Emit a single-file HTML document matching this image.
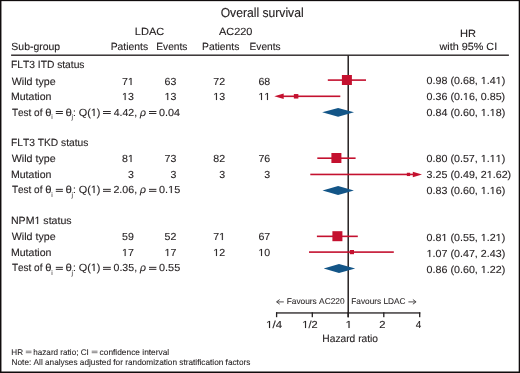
<!DOCTYPE html>
<html><head><meta charset="utf-8"><style>
html,body{margin:0;padding:0;background:#fff;}
body{width:520px;height:373px;overflow:hidden;}
svg{display:block;will-change:transform;}
text{font-family:"Liberation Sans",sans-serif;font-kerning:none;font-variant-ligatures:none;text-rendering:geometricPrecision;}
tspan.h{fill-opacity:0;stroke-opacity:0;}
</style></head><body>
<svg width="520" height="373" viewBox="0 0 520 373">
<defs>
<path id="one" d="M515 0V1237L197 1010V1180L530 1409H696V0Z"/>
</defs>
<rect width="520" height="373" fill="#fff"/>
<rect x="55.80" y="111.00" width="7.10" height="0.95" fill="#231f20"/>
<rect x="55.80" y="113.00" width="7.10" height="0.95" fill="#231f20"/>
<rect x="103.00" y="111.00" width="7.80" height="0.95" fill="#231f20"/>
<rect x="103.00" y="113.00" width="7.80" height="0.95" fill="#231f20"/>
<rect x="149.00" y="111.00" width="7.40" height="0.95" fill="#231f20"/>
<rect x="149.00" y="113.00" width="7.40" height="0.95" fill="#231f20"/>
<rect x="55.80" y="188.85" width="7.10" height="0.95" fill="#231f20"/>
<rect x="55.80" y="190.85" width="7.10" height="0.95" fill="#231f20"/>
<rect x="103.00" y="188.85" width="7.80" height="0.95" fill="#231f20"/>
<rect x="103.00" y="190.85" width="7.80" height="0.95" fill="#231f20"/>
<rect x="149.00" y="188.85" width="7.40" height="0.95" fill="#231f20"/>
<rect x="149.00" y="190.85" width="7.40" height="0.95" fill="#231f20"/>
<rect x="55.80" y="266.85" width="7.10" height="0.95" fill="#231f20"/>
<rect x="55.80" y="268.85" width="7.10" height="0.95" fill="#231f20"/>
<rect x="103.00" y="266.85" width="7.80" height="0.95" fill="#231f20"/>
<rect x="103.00" y="268.85" width="7.80" height="0.95" fill="#231f20"/>
<rect x="149.00" y="266.85" width="7.40" height="0.95" fill="#231f20"/>
<rect x="149.00" y="268.85" width="7.40" height="0.95" fill="#231f20"/>
<rect x="25.80" y="350.75" width="5.70" height="0.75" fill="#231f20" opacity="0.75"/>
<rect x="25.80" y="352.40" width="5.70" height="0.75" fill="#231f20" opacity="0.75"/>
<rect x="91.70" y="350.75" width="5.80" height="0.75" fill="#231f20" opacity="0.75"/>
<rect x="91.70" y="352.40" width="5.80" height="0.75" fill="#231f20" opacity="0.75"/>
<rect x="277.2" y="301.15" width="6.6" height="1.4" fill="#231f20" opacity="0.55"/>
<path d="M279.7,299.55 L276.5,301.85 L279.7,304.15" fill="none" stroke="#231f20" stroke-width="0.95" opacity="0.85"/>
<rect x="408.4" y="301.15" width="6.6" height="1.4" fill="#231f20" opacity="0.55"/>
<path d="M412.9,299.55 L416.1,301.85 L412.9,304.15" fill="none" stroke="#231f20" stroke-width="0.95" opacity="0.85"/>
<rect x="11.1" y="54.45" width="497.8" height="1.55" fill="#3f3a3b"/>
<rect x="347.45" y="55" width="1.55" height="262.3" fill="#2d2829"/>
<rect x="276.0" y="312.3" width="144.3" height="1.3" fill="#231f20"/>
<rect x="275.95" y="312.3" width="1.3" height="4.9" fill="#231f20"/>
<rect x="311.65" y="312.3" width="1.3" height="4.9" fill="#231f20"/>
<rect x="347.55" y="312.3" width="1.3" height="4.9" fill="#231f20"/>
<rect x="383.15" y="312.3" width="1.3" height="4.9" fill="#231f20"/>
<rect x="419.05" y="312.3" width="1.3" height="4.9" fill="#231f20"/>
<rect x="327.80" y="79.30" width="38.20" height="1.6" fill="#c4112f"/>
<rect x="341.90" y="75.00" width="10.00" height="10.00" fill="#c4112f"/>
<rect x="283.00" y="95.50" width="57.30" height="1.6" fill="#c4112f"/>
<rect x="293.85" y="94.05" width="4.50" height="4.50" fill="#c4112f"/>
<polygon points="274.30,96.30 283.70,93.60 283.70,99.00" fill="#c4112f"/>
<polygon points="322.20,112.30 338.10,107.90 354.00,112.30 338.10,116.70" fill="#135587"/>
<rect x="317.30" y="157.40" width="38.30" height="1.6" fill="#c4112f"/>
<rect x="331.40" y="153.00" width="10.00" height="10.00" fill="#c4112f"/>
<rect x="310.30" y="173.65" width="103.20" height="1.6" fill="#c4112f"/>
<rect x="406.85" y="172.75" width="3.30" height="3.30" fill="#c4112f"/>
<polygon points="422.00,174.45 412.80,171.75 412.80,177.15" fill="#c4112f"/>
<polygon points="322.50,190.50 338.10,185.95 353.90,190.50 338.10,195.05" fill="#135587"/>
<rect x="316.90" y="235.55" width="40.90" height="1.6" fill="#c4112f"/>
<rect x="332.40" y="231.20" width="10.00" height="10.00" fill="#c4112f"/>
<rect x="309.00" y="251.30" width="84.80" height="1.6" fill="#c4112f"/>
<rect x="349.80" y="250.00" width="4.20" height="4.20" fill="#c4112f"/>
<polygon points="323.70,268.50 339.00,263.90 355.20,268.50 339.00,273.10" fill="#135587"/>
<g fill="#231f20" stroke="#231f20" stroke-width="0.12" stroke-linejoin="round">
<text x="220.67" y="17" font-size="13.0" textLength="82.99" lengthAdjust="spacingAndGlyphs">Overall survival</text>
<text x="134.84" y="35" font-size="10.4" textLength="29.53" lengthAdjust="spacingAndGlyphs">LDAC</text>
<text x="218.93" y="35" font-size="10.4" textLength="33.55" lengthAdjust="spacingAndGlyphs">AC220</text>
<text x="459.94" y="37" font-size="10.4" textLength="16.02" lengthAdjust="spacingAndGlyphs">HR</text>
<text x="11.38" y="50" font-size="10.4" textLength="48.71" lengthAdjust="spacingAndGlyphs">Sub-group</text>
<text x="110.70" y="50" font-size="10.4" textLength="37.42" lengthAdjust="spacingAndGlyphs">Patients</text>
<text x="156.32" y="50" font-size="10.4" textLength="31.10" lengthAdjust="spacingAndGlyphs">Events</text>
<text x="202.00" y="50" font-size="10.4" textLength="37.42" lengthAdjust="spacingAndGlyphs">Patients</text>
<text x="249.62" y="50" font-size="10.4" textLength="31.00" lengthAdjust="spacingAndGlyphs">Events</text>
<text x="439.57" y="50" font-size="10.4" textLength="57.58" lengthAdjust="spacingAndGlyphs">with 95% CI</text>
<text x="11.01" y="68" font-size="10.4" textLength="73.51" lengthAdjust="spacingAndGlyphs">FLT3 ITD status</text>
<text x="11.80" y="85" font-size="10.4" textLength="43.82" lengthAdjust="spacingAndGlyphs">Wild type</text>
<text x="10.98" y="100" font-size="10.4" textLength="40.45" lengthAdjust="spacingAndGlyphs">Mutation</text>
<text x="122.01" y="85" font-size="10.2" textLength="11.80" lengthAdjust="spacingAndGlyphs">7<tspan class="h">1</tspan></text>
<text x="164.61" y="85" font-size="10.2" textLength="11.80" lengthAdjust="spacingAndGlyphs">63</text>
<text x="213.31" y="85" font-size="10.2" textLength="11.80" lengthAdjust="spacingAndGlyphs">72</text>
<text x="258.41" y="85" font-size="10.2" textLength="11.80" lengthAdjust="spacingAndGlyphs">68</text>
<text x="122.01" y="100" font-size="10.2" textLength="11.80" lengthAdjust="spacingAndGlyphs"><tspan class="h">1</tspan>3</text>
<text x="164.61" y="100" font-size="10.2" textLength="11.80" lengthAdjust="spacingAndGlyphs"><tspan class="h">1</tspan>3</text>
<text x="213.31" y="100" font-size="10.2" textLength="11.80" lengthAdjust="spacingAndGlyphs"><tspan class="h">1</tspan>3</text>
<text x="258.41" y="100" font-size="10.2" textLength="11.80" lengthAdjust="spacingAndGlyphs"><tspan class="h">1</tspan><tspan class="h">1</tspan></text>
<text x="426.63" y="84" font-size="10.2" textLength="78.59" lengthAdjust="spacingAndGlyphs">0.98 (0.68, <tspan class="h">1</tspan>.4<tspan class="h">1</tspan>)</text>
<text x="426.63" y="100" font-size="10.2" textLength="78.59" lengthAdjust="spacingAndGlyphs">0.36 (0.<tspan class="h">1</tspan>6, 0.85)</text>
<text x="426.63" y="116" font-size="10.2" textLength="78.59" lengthAdjust="spacingAndGlyphs">0.84 (0.60, <tspan class="h">1</tspan>.<tspan class="h">1</tspan>8)</text>
<text x="11.93" y="116" font-size="10.4" textLength="30.51" lengthAdjust="spacingAndGlyphs">Test of</text>
<text x="45.37" y="116" font-size="10.4" textLength="6.27" lengthAdjust="spacingAndGlyphs">θ</text>
<text x="51.30" y="119" font-size="6.8" textLength="1.51" lengthAdjust="spacingAndGlyphs" stroke-width="0">i</text>
<text x="65.56" y="116" font-size="10.4" textLength="6.39" lengthAdjust="spacingAndGlyphs">θ</text>
<text x="71.62" y="119" font-size="6.8" textLength="1.51" lengthAdjust="spacingAndGlyphs" stroke-width="0">j</text>
<text x="72.90" y="116" font-size="10.4" textLength="2.89" lengthAdjust="spacingAndGlyphs">:</text>
<text x="78.73" y="116" font-size="10.4" textLength="21.79" lengthAdjust="spacingAndGlyphs">Q(<tspan class="h">1</tspan>)</text>
<text x="113.71" y="116" font-size="10.2" textLength="20.47" lengthAdjust="spacingAndGlyphs">4.42</text>
<text x="134.22" y="116" font-size="10.4" textLength="2.89" lengthAdjust="spacingAndGlyphs">,</text>
<text x="140.10" y="116" font-size="10.4" textLength="5.96" lengthAdjust="spacingAndGlyphs" font-style="italic">ρ</text>
<text x="159.03" y="116" font-size="10.2" textLength="21.04" lengthAdjust="spacingAndGlyphs">0.04</text>
<text x="11.01" y="146" font-size="10.4" textLength="77.31" lengthAdjust="spacingAndGlyphs">FLT3 TKD status</text>
<text x="11.80" y="162" font-size="10.4" textLength="43.82" lengthAdjust="spacingAndGlyphs">Wild type</text>
<text x="10.98" y="178" font-size="10.4" textLength="40.45" lengthAdjust="spacingAndGlyphs">Mutation</text>
<text x="122.01" y="162" font-size="10.2" textLength="11.80" lengthAdjust="spacingAndGlyphs">8<tspan class="h">1</tspan></text>
<text x="164.61" y="162" font-size="10.2" textLength="11.80" lengthAdjust="spacingAndGlyphs">73</text>
<text x="213.31" y="162" font-size="10.2" textLength="11.80" lengthAdjust="spacingAndGlyphs">82</text>
<text x="258.41" y="162" font-size="10.2" textLength="11.80" lengthAdjust="spacingAndGlyphs">76</text>
<text x="127.91" y="178" font-size="10.2" textLength="5.90" lengthAdjust="spacingAndGlyphs">3</text>
<text x="170.51" y="178" font-size="10.2" textLength="5.90" lengthAdjust="spacingAndGlyphs">3</text>
<text x="219.21" y="178" font-size="10.2" textLength="5.90" lengthAdjust="spacingAndGlyphs">3</text>
<text x="264.31" y="178" font-size="10.2" textLength="5.90" lengthAdjust="spacingAndGlyphs">3</text>
<text x="426.63" y="162" font-size="10.2" textLength="78.59" lengthAdjust="spacingAndGlyphs">0.80 (0.57, <tspan class="h">1</tspan>.<tspan class="h">1</tspan><tspan class="h">1</tspan>)</text>
<text x="426.63" y="178" font-size="10.2" textLength="84.55" lengthAdjust="spacingAndGlyphs">3.25 (0.49, 2<tspan class="h">1</tspan>.62)</text>
<text x="426.63" y="194" font-size="10.2" textLength="78.59" lengthAdjust="spacingAndGlyphs">0.83 (0.60, <tspan class="h">1</tspan>.<tspan class="h">1</tspan>6)</text>
<text x="11.93" y="193" font-size="10.4" textLength="30.51" lengthAdjust="spacingAndGlyphs">Test of</text>
<text x="45.37" y="193" font-size="10.4" textLength="6.27" lengthAdjust="spacingAndGlyphs">θ</text>
<text x="51.30" y="197" font-size="6.8" textLength="1.51" lengthAdjust="spacingAndGlyphs" stroke-width="0">i</text>
<text x="65.56" y="193" font-size="10.4" textLength="6.39" lengthAdjust="spacingAndGlyphs">θ</text>
<text x="71.62" y="197" font-size="6.8" textLength="1.51" lengthAdjust="spacingAndGlyphs" stroke-width="0">j</text>
<text x="72.90" y="193" font-size="10.4" textLength="2.89" lengthAdjust="spacingAndGlyphs">:</text>
<text x="78.73" y="193" font-size="10.4" textLength="21.79" lengthAdjust="spacingAndGlyphs">Q(<tspan class="h">1</tspan>)</text>
<text x="113.42" y="193" font-size="10.2" textLength="20.70" lengthAdjust="spacingAndGlyphs">2.06</text>
<text x="134.22" y="193" font-size="10.4" textLength="2.89" lengthAdjust="spacingAndGlyphs">,</text>
<text x="140.10" y="193" font-size="10.4" textLength="5.96" lengthAdjust="spacingAndGlyphs" font-style="italic">ρ</text>
<text x="159.02" y="193" font-size="10.2" textLength="21.18" lengthAdjust="spacingAndGlyphs">0.<tspan class="h">1</tspan>5</text>
<text x="10.98" y="224" font-size="10.4" textLength="60.65" lengthAdjust="spacingAndGlyphs">NPM<tspan class="h">1</tspan> status</text>
<text x="11.80" y="240" font-size="10.4" textLength="43.82" lengthAdjust="spacingAndGlyphs">Wild type</text>
<text x="10.98" y="256" font-size="10.4" textLength="40.45" lengthAdjust="spacingAndGlyphs">Mutation</text>
<text x="122.01" y="240" font-size="10.2" textLength="11.80" lengthAdjust="spacingAndGlyphs">59</text>
<text x="164.61" y="240" font-size="10.2" textLength="11.80" lengthAdjust="spacingAndGlyphs">52</text>
<text x="213.31" y="240" font-size="10.2" textLength="11.80" lengthAdjust="spacingAndGlyphs">7<tspan class="h">1</tspan></text>
<text x="258.41" y="240" font-size="10.2" textLength="11.80" lengthAdjust="spacingAndGlyphs">67</text>
<text x="122.01" y="256" font-size="10.2" textLength="11.80" lengthAdjust="spacingAndGlyphs"><tspan class="h">1</tspan>7</text>
<text x="164.61" y="256" font-size="10.2" textLength="11.80" lengthAdjust="spacingAndGlyphs"><tspan class="h">1</tspan>7</text>
<text x="213.31" y="256" font-size="10.2" textLength="11.80" lengthAdjust="spacingAndGlyphs"><tspan class="h">1</tspan>2</text>
<text x="258.41" y="256" font-size="10.2" textLength="11.80" lengthAdjust="spacingAndGlyphs"><tspan class="h">1</tspan>0</text>
<text x="426.63" y="241" font-size="10.2" textLength="78.59" lengthAdjust="spacingAndGlyphs">0.8<tspan class="h">1</tspan> (0.55, <tspan class="h">1</tspan>.2<tspan class="h">1</tspan>)</text>
<text x="426.63" y="257" font-size="10.2" textLength="78.59" lengthAdjust="spacingAndGlyphs"><tspan class="h">1</tspan>.07 (0.47, 2.43)</text>
<text x="426.63" y="273" font-size="10.2" textLength="78.59" lengthAdjust="spacingAndGlyphs">0.86 (0.60, <tspan class="h">1</tspan>.22)</text>
<text x="11.93" y="271" font-size="10.4" textLength="30.51" lengthAdjust="spacingAndGlyphs">Test of</text>
<text x="45.37" y="271" font-size="10.4" textLength="6.27" lengthAdjust="spacingAndGlyphs">θ</text>
<text x="51.30" y="275" font-size="6.8" textLength="1.51" lengthAdjust="spacingAndGlyphs" stroke-width="0">i</text>
<text x="65.56" y="271" font-size="10.4" textLength="6.39" lengthAdjust="spacingAndGlyphs">θ</text>
<text x="71.62" y="275" font-size="6.8" textLength="1.51" lengthAdjust="spacingAndGlyphs" stroke-width="0">j</text>
<text x="72.90" y="271" font-size="10.4" textLength="2.89" lengthAdjust="spacingAndGlyphs">:</text>
<text x="78.73" y="271" font-size="10.4" textLength="21.79" lengthAdjust="spacingAndGlyphs">Q(<tspan class="h">1</tspan>)</text>
<text x="113.54" y="271" font-size="10.2" textLength="20.56" lengthAdjust="spacingAndGlyphs">0.35</text>
<text x="134.22" y="271" font-size="10.4" textLength="2.89" lengthAdjust="spacingAndGlyphs">,</text>
<text x="140.10" y="271" font-size="10.4" textLength="5.96" lengthAdjust="spacingAndGlyphs" font-style="italic">ρ</text>
<text x="159.02" y="271" font-size="10.2" textLength="21.18" lengthAdjust="spacingAndGlyphs">0.55</text>
<text x="286.67" y="304" font-size="8.4" textLength="57.91" lengthAdjust="spacingAndGlyphs" stroke-width="0.08">Favours AC220</text>
<text x="351.27" y="304" font-size="8.4" textLength="54.29" lengthAdjust="spacingAndGlyphs" stroke-width="0.08">Favours LDAC</text>
<text x="266.15" y="328" font-size="10.2" textLength="15.94" lengthAdjust="spacingAndGlyphs"><tspan class="h">1</tspan>/4</text>
<text x="302.29" y="328" font-size="10.2" textLength="15.31" lengthAdjust="spacingAndGlyphs"><tspan class="h">1</tspan>/2</text>
<text x="345.51" y="328" font-size="10.2" textLength="6.62" lengthAdjust="spacingAndGlyphs"><tspan class="h">1</tspan></text>
<text x="379.29" y="328" font-size="10.2" textLength="6.23" lengthAdjust="spacingAndGlyphs">2</text>
<text x="415.72" y="328" font-size="10.2" textLength="5.52" lengthAdjust="spacingAndGlyphs">4</text>
<text x="322.31" y="342" font-size="10.4" textLength="55.77" lengthAdjust="spacingAndGlyphs">Hazard ratio</text>
<text x="11.28" y="355" font-size="8.3" textLength="11.74" lengthAdjust="spacingAndGlyphs" stroke-width="0.08">HR</text>
<text x="33.29" y="355" font-size="8.3" textLength="55.51" lengthAdjust="spacingAndGlyphs" stroke-width="0.08">hazard ratio; CI</text>
<text x="99.60" y="355" font-size="8.3" textLength="69.61" lengthAdjust="spacingAndGlyphs" stroke-width="0.08">confidence interval</text>
<text x="11.57" y="365" font-size="8.3" textLength="238.77" lengthAdjust="spacingAndGlyphs" stroke-width="0.08">Note: All analyses adjusted for randomization stratification factors</text>
</g>
<g fill="#231f20" stroke="#231f20" stroke-linejoin="round">
<use href="#one" transform="translate(127.91,85) scale(0.005180,-0.004980)" stroke-width="24.1"/>
<use href="#one" transform="translate(122.01,100) scale(0.005180,-0.004980)" stroke-width="24.1"/>
<use href="#one" transform="translate(164.61,100) scale(0.005180,-0.004980)" stroke-width="24.1"/>
<use href="#one" transform="translate(213.31,100) scale(0.005180,-0.004980)" stroke-width="24.1"/>
<use href="#one" transform="translate(258.41,100) scale(0.005180,-0.004980)" stroke-width="24.1"/>
<use href="#one" transform="translate(264.31,100) scale(0.005180,-0.004980)" stroke-width="24.1"/>
<use href="#one" transform="translate(480.81,84) scale(0.005229,-0.004980)" stroke-width="24.1"/>
<use href="#one" transform="translate(495.70,84) scale(0.005229,-0.004980)" stroke-width="24.1"/>
<use href="#one" transform="translate(462.95,100) scale(0.005229,-0.004980)" stroke-width="24.1"/>
<use href="#one" transform="translate(480.81,116) scale(0.005229,-0.004980)" stroke-width="24.1"/>
<use href="#one" transform="translate(489.75,116) scale(0.005229,-0.004980)" stroke-width="24.1"/>
<use href="#one" transform="translate(90.84,116) scale(0.005320,-0.005078)" stroke-width="23.6"/>
<use href="#one" transform="translate(127.91,162) scale(0.005180,-0.004980)" stroke-width="24.1"/>
<use href="#one" transform="translate(480.81,162) scale(0.005229,-0.004980)" stroke-width="24.1"/>
<use href="#one" transform="translate(489.75,162) scale(0.005229,-0.004980)" stroke-width="24.1"/>
<use href="#one" transform="translate(495.70,162) scale(0.005229,-0.004980)" stroke-width="24.1"/>
<use href="#one" transform="translate(486.77,178) scale(0.005229,-0.004980)" stroke-width="24.1"/>
<use href="#one" transform="translate(480.81,194) scale(0.005229,-0.004980)" stroke-width="24.1"/>
<use href="#one" transform="translate(489.75,194) scale(0.005229,-0.004980)" stroke-width="24.1"/>
<use href="#one" transform="translate(90.84,193) scale(0.005320,-0.005078)" stroke-width="23.6"/>
<use href="#one" transform="translate(168.10,193) scale(0.005314,-0.004980)" stroke-width="24.1"/>
<use href="#one" transform="translate(34.53,224) scale(0.005174,-0.005078)" stroke-width="23.6"/>
<use href="#one" transform="translate(219.21,240) scale(0.005180,-0.004980)" stroke-width="24.1"/>
<use href="#one" transform="translate(122.01,256) scale(0.005180,-0.004980)" stroke-width="24.1"/>
<use href="#one" transform="translate(164.61,256) scale(0.005180,-0.004980)" stroke-width="24.1"/>
<use href="#one" transform="translate(213.31,256) scale(0.005180,-0.004980)" stroke-width="24.1"/>
<use href="#one" transform="translate(258.41,256) scale(0.005180,-0.004980)" stroke-width="24.1"/>
<use href="#one" transform="translate(441.52,241) scale(0.005229,-0.004980)" stroke-width="24.1"/>
<use href="#one" transform="translate(480.81,241) scale(0.005229,-0.004980)" stroke-width="24.1"/>
<use href="#one" transform="translate(495.70,241) scale(0.005229,-0.004980)" stroke-width="24.1"/>
<use href="#one" transform="translate(426.63,257) scale(0.005229,-0.004980)" stroke-width="24.1"/>
<use href="#one" transform="translate(480.81,273) scale(0.005229,-0.004980)" stroke-width="24.1"/>
<use href="#one" transform="translate(90.84,271) scale(0.005320,-0.005078)" stroke-width="23.6"/>
<use href="#one" transform="translate(266.15,328) scale(0.005598,-0.004980)" stroke-width="24.1"/>
<use href="#one" transform="translate(302.29,328) scale(0.005379,-0.004980)" stroke-width="24.1"/>
<use href="#one" transform="translate(345.51,328) scale(0.005812,-0.004980)" stroke-width="24.1"/>
</g>
<rect x="0" y="0" width="1.45" height="373" fill="#100c0d"/><rect x="0" y="0" width="520" height="1.15" fill="#100c0d"/><rect x="518.7" y="0" width="1.3" height="373" fill="#100c0d"/><rect x="0" y="371.5" width="520" height="1.5" fill="#100c0d"/>
</svg>
</body></html>
